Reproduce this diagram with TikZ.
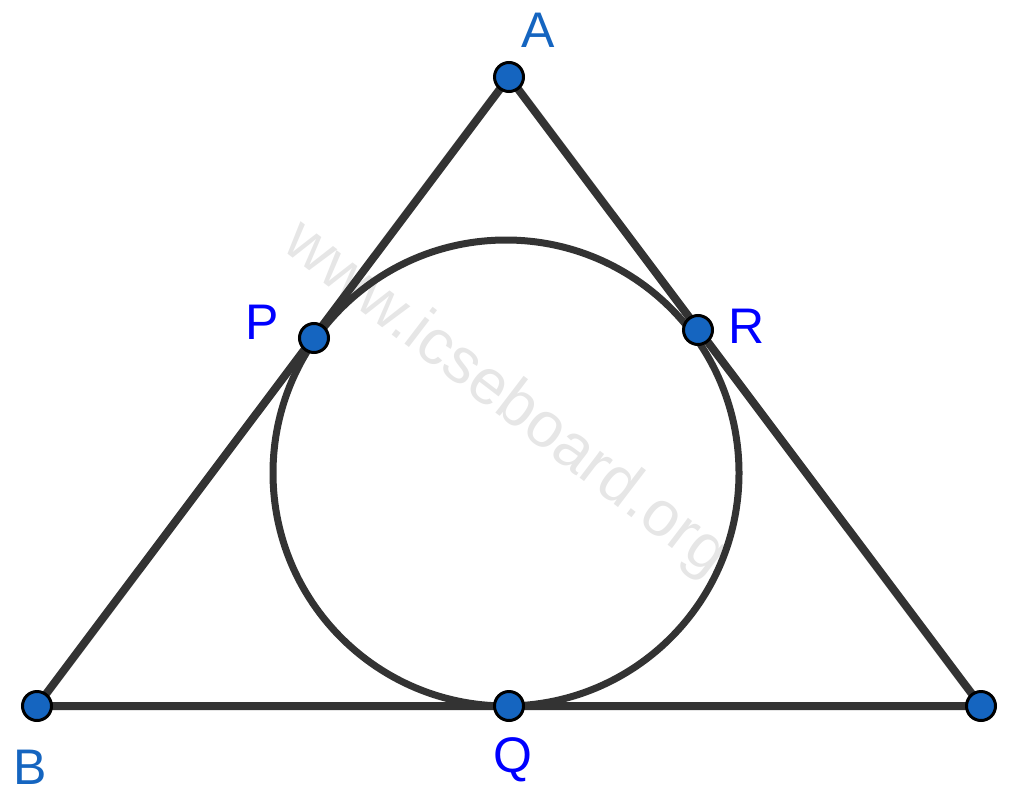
\documentclass[tikz,border=0pt]{standalone}
\usepackage{fontspec}
\setmainfont{Liberation Sans}
\definecolor{lineC}{HTML}{333333}
\definecolor{ptC}{HTML}{1565C0}
\definecolor{lblA}{HTML}{1565C0}
\definecolor{lblB}{HTML}{0000FF}
\definecolor{wmC}{HTML}{E6E6E6}
\begin{document}
\begin{tikzpicture}[x=1pt,y=-1pt,
  pt/.style={circle,fill=ptC,draw=black,line width=3pt,minimum size=29pt,inner sep=0pt},
  side/.style={draw=lineC,line width=8pt},
  incircle/.style={draw=lineC,line width=7pt},
  lab/.style={font=\fontsize{50}{60}\selectfont,inner sep=0pt},
  wm/.style={font=\fontsize{64}{76}\selectfont,text=wmC,inner sep=0pt}]
\useasboundingbox (0,0) rectangle (1011,800);
\node[wm,rotate=-37.4] (wm) at (505,400) {www.icseboard.org};
\coordinate (a) at (509,77);
\coordinate (b) at (37,706);
\coordinate (c) at (981,706);
\coordinate (q) at (509,706);
\coordinate (p) at (314,338);
\coordinate (r) at (698,330);
\coordinate (o) at (506,473);
\draw[side] (a) -- (b) -- (c) -- cycle;
\draw[incircle] (o) circle[radius=233];
\node[pt] (A) at (a) {};
\node[pt] (B) at (b) {};
\node[pt] (C) at (c) {};
\node[pt] (Q) at (q) {};
\node[pt] (P) at (p) {};
\node[pt] (R) at (r) {};
\node[lab,text=lblA] (lA) at (538,30) {A};
\node[lab,text=lblA] (lB) at (30,767) {B};
\node[lab,text=lblB] (lQ) at (513,760) {Q};
\node[lab,text=lblB] (lP) at (262,322) {P};
\node[lab,text=lblB] (lR) at (747,326) {R};
\end{tikzpicture}
\end{document}
